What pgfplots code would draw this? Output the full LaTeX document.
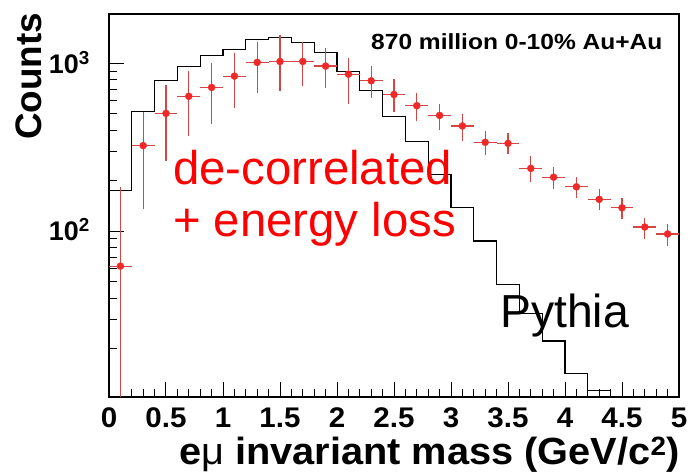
\documentclass[border=0pt]{standalone}
\usepackage{fontspec}
\setmainfont{Liberation Sans}
\usepackage{graphicx}
\usepackage{pgfplots}
\pgfplotsset{compat=1.18}

\definecolor{mred}{RGB}{240,40,40}
\definecolor{ered}{RGB}{210,70,70}

\newcommand{\xt}[1]{\scalebox{1.04}[1]{\bfseries\fontsize{28.5}{28.5}\selectfont #1}}
\newcommand{\yt}[1]{{\bfseries\fontsize{27}{27}\selectfont 10\textsuperscript{#1}}}

\pgfplotstableread{
x y ep em
0.1 62 122 61.5
0.3 324 191 189
0.5 504 237 242
0.7 637 263 268
0.9 719 281 286
1.1 840 307 300
1.3 1014 320 343
1.5 1027 445 340
1.7 1027 307 294
1.9 964 264 248
2.1 863 207 290
2.3 788 176 169
2.5 653 150 138
2.7 560 111 106
2.9 490 84 89
3.1 424 75 78
3.3 339 55 55
3.5 334 52 46
3.7 237 44 40
3.9 210 32 31
4.1 184 27 27
4.3 155 23 21
4.5 138 19 20
4.7 106 14 16
4.9 96.4 13.6 14.4
}\datatable

\pgfplotstableread{
x y
0.0 174
0.2 515
0.4 788
0.6 960
0.8 1110
1.0 1212
1.2 1390
1.4 1430
1.6 1334
1.8 1157
2.0 891
2.2 693
2.4 485
2.6 341
2.8 219
3.0 139
3.2 87.5
3.4 48.4
3.6 32.2
3.8 22.2
4.0 14.3
4.2 11.2
4.4 5
5.0 5
}\pythiatable

\begin{document}
\begin{tikzpicture}
\useasboundingbox (-109bp,-75bp) rectangle (580bp,397bp);
\begin{axis}[
  at={(0,0)}, anchor=south west,
  scale only axis, width=570bp, height=383bp,
  xmin=0, xmax=5, ymode=log, ymin=10.3, ymax=1970,
  axis line style={line width=1.3bp},
  tick align=inside, xtick pos=bottom, ytick pos=left,
  xtick={0,0.5,1,1.5,2,2.5,3,3.5,4,4.5,5},
  xticklabels={\xt{0},\xt{0.5},\xt{1},\xt{1.5},\xt{2},\xt{2.5},\xt{3},\xt{3.5},\xt{4},\xt{4.5},\xt{5}},
  minor x tick num=4,
  ytick={100,1000}, yticklabels={\yt{2},\yt{3}},
  minor ytick={20,30,40,50,60,70,80,90,200,300,400,500,600,700,800,900},
  major tick length=15bp, minor tick length=8bp,
  tick style={black, line width=1bp},
  xticklabel style={anchor=north, inner sep=0pt, yshift=-10.5bp},
  yticklabel style={anchor=base east, inner sep=0pt, xshift=-19bp, yshift=-9.7bp},
]
\addplot[const plot, black, line width=1.1bp] table[x=x,y=y] {\pythiatable};
\addplot[only marks, mark=*, mark size=3.5bp, mark options={fill=mred, draw=mred},
  error bars/.cd, x dir=both, x fixed=0.1, y dir=both, y explicit,
  error bar style={ered, line width=1.2bp}, error mark=none]
  table[x=x, y=y, y error plus=ep, y error minus=em] {\datatable};
\end{axis}
\node[anchor=base west, inner sep=0pt] at (262bp,347bp) {\scalebox{1.12}[1]{\bfseries\fontsize{22}{22}\selectfont 870 million 0-10\% Au+Au}};
\node[anchor=base west, inner sep=0pt, text=red] at (64bp,212bp) {\fontsize{47.5}{47.5}\selectfont de-correlated};
\node[anchor=base west, inner sep=0pt, text=red] at (64bp,160.3bp) {\fontsize{47.5}{47.5}\selectfont + energy loss};
\node[anchor=base west, inner sep=0pt] at (391bp,69bp) {\fontsize{46.5}{46.5}\selectfont Pythia};
\node[anchor=base east, inner sep=0pt] at (571bp,-67bp) {\scalebox{1.05}[1]{\bfseries\fontsize{38}{38}\selectfont e{\mdseries μ} invariant mass (GeV/c\textsuperscript{2})}};
\node[anchor=base, inner sep=0pt, rotate=90] at (-67bp,320.5bp) {\bfseries\fontsize{37}{37}\selectfont Counts};
\end{tikzpicture}
\end{document}
